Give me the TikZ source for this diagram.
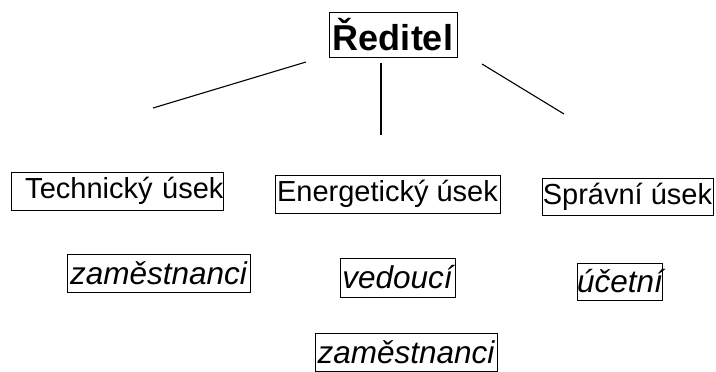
\documentclass[tikz,border=0pt]{standalone}
\usepackage{fontspec}
\setmainfont{Liberation Sans}
\begin{document}
\begin{tikzpicture}[x=1pt,y=-1pt,
  box/.style={draw=black,line width=0.9pt,inner sep=0pt,minimum height=38pt,align=center},
  reg/.style={box,font=\fontsize{29}{31}\selectfont},
  ital/.style={box,font=\fontsize{31.5}{33}\selectfont\itshape},
  head/.style={box,font=\fontsize{36}{38}\selectfont\bfseries},
  link/.style={draw=black,line width=1.1pt}]
\useasboundingbox (0,0) rectangle (716,372);
\node[head,minimum width=128pt,minimum height=45pt] (red) at (393,34.5) {Ředitel};
\node[reg,text width=212pt,align=right] (tech) at (117.5,191) {Technický úsek};
\node[reg,minimum width=225pt] (energ) at (387.5,194) {Energetický úsek};
\node[reg,minimum width=171pt,minimum height=37pt] (sprav) at (627.5,196.5) {Správní úsek};
\node[ital,minimum width=183pt] (zam1) at (158.5,273) {zaměstnanci};
\node[ital,minimum width=115pt,minimum height=39pt] (ved) at (397.5,277.5) {vedoucí};
\node[ital,minimum width=84pt,minimum height=37pt] (uc) at (620,281.5) {účetní};
\node[ital,minimum width=182pt] (zam2) at (406,352) {zaměstnanci};
\coordinate (la) at (306,62);
\coordinate (lb) at (153,108);
\coordinate (ma) at (381,63);
\coordinate (mb) at (381,135);
\coordinate (ra) at (482,64);
\coordinate (rb) at (564,114);
\draw[link] (la) -- (lb);
\draw[link] (ma) -- (mb);
\draw[link] (ra) -- (rb);
\end{tikzpicture}
\end{document}
